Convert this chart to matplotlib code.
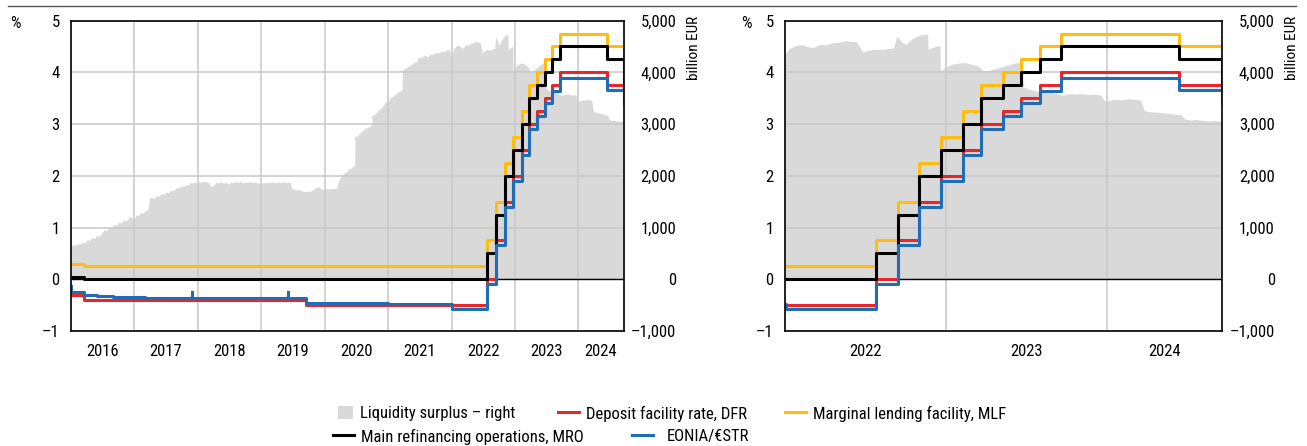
import matplotlib
matplotlib.use('Agg')
import matplotlib.pyplot as plt
import matplotlib.dates as mdates
from matplotlib.patches import Patch
from matplotlib.lines import Line2D
from matplotlib import font_manager
import pandas as pd

_names = {f.name for f in font_manager.fontManager.ttflist}
_fam = [n for n in ['Roboto Condensed', 'Liberation Sans Narrow', 'Open Sans Condensed',
                    'Liberation Sans'] if n in _names] + ['DejaVu Sans']
plt.rcParams['font.family'] = _fam
plt.rcParams['font.size'] = 12
print(_fam)

W, H = 1307, 446

# ---------------- data ----------------
rate_dates = ['2016-01-01', '2016-03-16', '2019-09-18', '2022-07-27', '2022-09-14', '2022-11-02',
              '2022-12-21', '2023-02-08', '2023-03-22', '2023-05-10', '2023-06-21', '2023-08-02',
              '2023-09-20', '2024-06-12', '2024-09-17', '2024-09-18']
dfr = [-0.30, -0.40, -0.50, 0.00, 0.75, 1.50, 2.00, 2.50, 3.00, 3.25, 3.50, 3.75, 4.00, 3.75, 3.50, 3.50]
mro = [0.05, 0.00, 0.00, 0.50, 1.25, 2.00, 2.50, 3.00, 3.50, 3.75, 4.00, 4.25, 4.50, 4.25, 3.65, 3.65]
mlf = [0.30, 0.25, 0.25, 0.75, 1.50, 2.25, 2.75, 3.25, 3.75, 4.00, 4.25, 4.50, 4.75, 4.50, 3.90, 3.90]

eonia_dates = ['2016-01-01', '2016-01-04', '2016-03-16', '2016-06-01', '2016-09-01', '2017-03-01',
               '2017-11-27', '2017-11-30', '2018-06-01', '2019-06-05', '2019-06-07', '2019-09-18',
               '2020-06-01', '2021-01-01', '2022-01-03', '2022-07-27', '2022-09-14', '2022-11-02',
               '2022-12-21', '2023-02-08', '2023-03-22', '2023-05-10', '2023-06-21', '2023-08-02',
               '2023-09-20', '2024-06-12', '2024-09-17', '2024-09-18']
eonia = [-0.13, -0.24, -0.31, -0.33, -0.35, -0.36, -0.24, -0.36, -0.36, -0.24, -0.37, -0.46,
         -0.46, -0.48, -0.58, -0.09, 0.66, 1.40, 1.90, 2.40, 2.90, 3.15, 3.40, 3.64, 3.90, 3.66,
         3.41, 3.41]

liq_dates = [
    '2016-01-01', '2016-01-12', '2016-01-26', '2016-02-09', '2016-02-23', '2016-03-08', '2016-03-22',
    '2016-04-05', '2016-04-19', '2016-05-03', '2016-05-17', '2016-05-31', '2016-06-14', '2016-06-28',
    '2016-07-12', '2016-07-26', '2016-08-09', '2016-08-23', '2016-09-06', '2016-09-20', '2016-10-04',
    '2016-10-18', '2016-11-01', '2016-11-15', '2016-11-29', '2016-12-13', '2016-12-30',
    '2017-01-10', '2017-01-24', '2017-02-07', '2017-02-21', '2017-03-07', '2017-03-21', '2017-03-29',
    '2017-04-11', '2017-04-25', '2017-05-09', '2017-05-23', '2017-06-06', '2017-06-20', '2017-07-04',
    '2017-07-18', '2017-08-01', '2017-08-15', '2017-08-29', '2017-09-12', '2017-09-26', '2017-10-10',
    '2017-10-24', '2017-11-07', '2017-11-21', '2017-12-05', '2017-12-19', '2017-12-29',
    '2018-01-09', '2018-01-23', '2018-02-06', '2018-02-20', '2018-03-06', '2018-03-20', '2018-04-03',
    '2018-04-17', '2018-05-01', '2018-05-15', '2018-05-29', '2018-06-12', '2018-06-26', '2018-07-10',
    '2018-07-24', '2018-08-07', '2018-08-21', '2018-09-04', '2018-09-18', '2018-10-02', '2018-10-16',
    '2018-10-30', '2018-11-13', '2018-11-27', '2018-12-11', '2018-12-31',
    '2019-01-15', '2019-01-29', '2019-02-12', '2019-02-26', '2019-03-12', '2019-03-26', '2019-04-09',
    '2019-04-23', '2019-05-07', '2019-05-21', '2019-06-04', '2019-06-18', '2019-06-26', '2019-07-09',
    '2019-07-23', '2019-08-06', '2019-08-20', '2019-09-03', '2019-09-17', '2019-10-01', '2019-10-15',
    '2019-10-29', '2019-11-12', '2019-11-26', '2019-12-10', '2019-12-31',
    '2020-01-14', '2020-01-28', '2020-02-11', '2020-02-25', '2020-03-10', '2020-03-24', '2020-04-07',
    '2020-04-21', '2020-05-05', '2020-05-19', '2020-06-02', '2020-06-16', '2020-06-23', '2020-06-24',
    '2020-07-07', '2020-07-21', '2020-08-04', '2020-08-18', '2020-09-01', '2020-09-15', '2020-09-29',
    '2020-09-30', '2020-10-13', '2020-10-27', '2020-11-10', '2020-11-24', '2020-12-08', '2020-12-22',
    '2020-12-31',
    '2021-01-12', '2021-01-26', '2021-02-09', '2021-02-23', '2021-03-09', '2021-03-23', '2021-03-24',
    '2021-04-06', '2021-04-20', '2021-05-04', '2021-05-18', '2021-06-01', '2021-06-15', '2021-06-24',
    '2021-07-06', '2021-07-20', '2021-08-03', '2021-08-17', '2021-08-31', '2021-09-14', '2021-09-28',
    '2021-10-12', '2021-10-26', '2021-11-09', '2021-11-23', '2021-12-07', '2021-12-21', '2021-12-31',
    '2022-01-11', '2022-01-25', '2022-02-08', '2022-02-22', '2022-03-08', '2022-03-22', '2022-04-05',
    '2022-04-19', '2022-05-03', '2022-05-17', '2022-05-31', '2022-06-14', '2022-06-28', '2022-07-12',
    '2022-07-26', '2022-08-09', '2022-08-23', '2022-09-06', '2022-09-13', '2022-09-27', '2022-10-04',
    '2022-10-18', '2022-11-01', '2022-11-15', '2022-11-22', '2022-11-23', '2022-12-06', '2022-12-20',
    '2022-12-21',
    '2023-01-03', '2023-01-17', '2023-01-31', '2023-02-14', '2023-02-28', '2023-03-14', '2023-03-29',
    '2023-04-11', '2023-04-25', '2023-05-09', '2023-05-23', '2023-06-06', '2023-06-20', '2023-06-28',
    '2023-07-11', '2023-07-25', '2023-08-08', '2023-08-22', '2023-09-05', '2023-09-19', '2023-09-27',
    '2023-10-10', '2023-10-24', '2023-11-07', '2023-11-21', '2023-12-05', '2023-12-19', '2023-12-29',
    '2024-01-09', '2024-01-23', '2024-02-06', '2024-02-20', '2024-03-05', '2024-03-19', '2024-03-27',
    '2024-04-09', '2024-04-23', '2024-05-07', '2024-05-21', '2024-06-04', '2024-06-18', '2024-06-26',
    '2024-07-09', '2024-07-23', '2024-08-06', '2024-08-20', '2024-09-03', '2024-09-18']
liq_bn = [
    630, 670, 650, 690, 680, 720, 700,
    770, 750, 810, 790, 850, 830, 900,
    960, 940, 1010, 990, 1060, 1040, 1110,
    1090, 1150, 1130, 1190, 1210, 1150,
    1240, 1230, 1290, 1280, 1330, 1350, 1570,
    1580, 1560, 1620, 1600, 1660, 1640, 1690,
    1670, 1730, 1710, 1770, 1760, 1800, 1790,
    1830, 1820, 1870, 1860, 1890, 1830,
    1890, 1870, 1900, 1880, 1860, 1790, 1820,
    1880, 1860, 1890, 1850, 1880, 1830, 1880,
    1860, 1890, 1870, 1890, 1860, 1880, 1870,
    1890, 1870, 1880, 1870, 1840,
    1880, 1860, 1880, 1870, 1880, 1860, 1880,
    1870, 1890, 1870, 1880, 1870, 1760, 1740,
    1720, 1740, 1710, 1700, 1690, 1710, 1700,
    1740, 1770, 1790, 1760, 1720,
    1760, 1740, 1760, 1750, 1760, 1920, 1990,
    2050, 2080, 2130, 2150, 2190, 2200, 2780,
    2760, 2820, 2870, 2910, 2930, 2950, 3000,
    3170, 3180, 3230, 3280, 3320, 3380, 3450,
    3400,
    3510, 3530, 3570, 3610, 3640, 3670, 4040,
    4070, 4100, 4130, 4160, 4190, 4210, 4300,
    4280, 4310, 4330, 4300, 4350, 4340, 4380,
    4370, 4390, 4410, 4400, 4440, 4430, 4300,
    4440, 4500, 4530, 4490, 4470, 4530, 4520,
    4560, 4570, 4600, 4590, 4580, 4380, 4420,
    4440, 4430, 4450, 4460, 4690, 4560, 4530,
    4640, 4700, 4730, 4720, 4440, 4480, 4510,
    4020,
    4100, 4150, 4170, 4180, 4150, 4120, 4020,
    4030, 4060, 4100, 4130, 4170, 4180, 3700,
    3660, 3630, 3610, 3630, 3590, 3560, 3550,
    3580, 3570, 3580, 3560, 3570, 3550, 3430,
    3450, 3470, 3460, 3480, 3470, 3450, 3250,
    3230, 3220, 3210, 3200, 3180, 3170, 3090,
    3070, 3080, 3060, 3050, 3060, 3040]

pct_ticks = [-1, 0, 1, 2, 3, 4, 5]
pct_labels = ['\u20131', '0', '1', '2', '3', '4', '5']
bn_ticks = [-1000, 0, 1000, 2000, 3000, 4000, 5000]
bn_labels = ['\u20131,000', '0', '1,000', '2,000', '3,000', '4,000', '5,000']

labels = {
    'liq': 'Liquidity surplus \u2013 right',
    'dfr': 'Deposit facility rate, DFR',
    'mlf': 'Marginal lending facility, MLF',
    'mro': 'Main refinancing operations, MRO',
    'eon': 'EONIA/\u20acSTR',
}

C_RED = '#E8262C'
C_YEL = '#FFBE0F'
C_BLU = '#1F6DB5'
C_BLK = '#000000'
C_FILL = '#D9D9D9'
C_GRID = '#C8C8C8'

FS = 11.5 if 'Liberation Sans' == _fam[0] else 12


def num(ds):
    return mdates.date2num(pd.to_datetime(ds))


fig = plt.figure(figsize=(W / 100, H / 100), dpi=100)


def panel(rect, start, end, years, pct_x):
    xmin, xmax = num(start), num(end)
    ax2 = fig.add_axes(rect)
    ax = fig.add_axes(rect)
    ax.set_zorder(ax2.get_zorder() + 1)
    ax.patch.set_visible(False)

    x_liq = num(liq_dates)
    ax2.fill_between(x_liq, 0, liq_bn, color=C_FILL, lw=0)
    ax2.set_xlim(xmin, xmax)
    ax2.xaxis.set_visible(False)
    ax2.set_ylim(-1000, 5000)
    ax2.yaxis.tick_right()
    ax2.set_yticks(bn_ticks, bn_labels)
    ax2.tick_params(axis='y', length=0, pad=38, labelsize=FS)
    for t in ax2.get_yticklabels():
        t.set_horizontalalignment('right')
    for s in ax2.spines.values():
        s.set_visible(False)

    ax.axhline(0, color=C_BLK, lw=1.0, zorder=1.8)
    xr = num(rate_dates)
    ax.plot(xr, dfr, drawstyle='steps-post', color=C_RED, lw=2.2, zorder=2.0)
    ax.plot(xr, mlf, drawstyle='steps-post', color=C_YEL, lw=2.2, zorder=2.1)
    ax.plot(xr, mro, drawstyle='steps-post', color=C_BLK, lw=2.2, zorder=2.2)
    ax.plot(num(eonia_dates), eonia, drawstyle='steps-post', color=C_BLU, lw=2.2, zorder=2.3)

    ax.set_xlim(xmin, xmax)
    ax.set_ylim(-1, 5)
    ax.set_yticks(pct_ticks, pct_labels)
    ax.tick_params(axis='y', length=0, pad=8, labelsize=FS)

    starts = [num(f'{y}-01-01') for y in years]
    grid_x = [s for s in starts if xmin < s < xmax]
    centers = []
    for y in years:
        a = max(num(f'{y}-01-01'), xmin)
        b = min(num(f'{y + 1}-01-01'), xmax)
        centers.append((a + b) / 2)
    ax.set_xticks(grid_x, [''] * len(grid_x))
    ax.set_xticks(centers, [str(y) for y in years], minor=True)
    ax.tick_params(axis='x', which='both', length=0, pad=9, labelsize=FS)
    ax.grid(True, which='major', color=C_GRID, lw=1.1)
    ax.grid(False, which='minor')
    for s in ax.spines.values():
        s.set_color('#111111')
        s.set_linewidth(1.3)
    fig.text(pct_x / W, 1 - 24 / H, '%', ha='center', va='center', fontsize=FS)
    return ax, ax2


axL, axL2 = panel([70.7 / W, 1 - 331 / H, 553 / W, 310.4 / H], '2016-01-01', '2024-09-18',
                  list(range(2016, 2025)), 15.5)
axR, axR2 = panel([784.7 / W, 1 - 331 / H, 437.3 / W, 310.4 / H], '2022-01-01', '2024-09-18',
                  [2022, 2023, 2024], 746)

for xpix in (694.5, 1291.7):
    fig.text(xpix / W, 1 - 16 / H, 'billion EUR', rotation=90, ha='center', va='top', fontsize=FS - 1)

# top rule
fig.add_artist(Line2D([8 / W, 1296 / W], [1 - 5.7 / H, 1 - 5.7 / H], color='#555555', lw=1.0))

# legend entries
h_liq = Patch(facecolor=C_FILL, edgecolor='none')
h_dfr = Line2D([], [], color=C_RED, lw=2.2)
h_mlf = Line2D([], [], color=C_YEL, lw=2.2)
h_mro = Line2D([], [], color=C_BLK, lw=2.2)
h_eon = Line2D([], [], color=C_BLU, lw=2.2)

entries = [
    (h_liq, labels['liq'], 338, 413.5, 0.9, 0.45),
    (h_dfr, labels['dfr'], 558, 413.5, 1.26, 0.40),
    (h_mlf, labels['mlf'], 785, 413.5, 1.26, 0.40),
    (h_mro, labels['mro'], 333, 436.5, 1.26, 0.40),
    (h_eon, labels['eon'], 632, 436.5, 1.26, 0.80),
]
for h, lab, xp, yp, hl, tp in entries:
    fig.legend(handles=[h], labels=[lab], loc='center left',
               bbox_to_anchor=(xp / W, 1 - yp / H), bbox_transform=fig.transFigure,
               frameon=False, borderpad=0, borderaxespad=0, handlelength=hl,
               handleheight=0.8, handletextpad=tp, fontsize=FS)

fig.savefig('out.png', dpi=100)
